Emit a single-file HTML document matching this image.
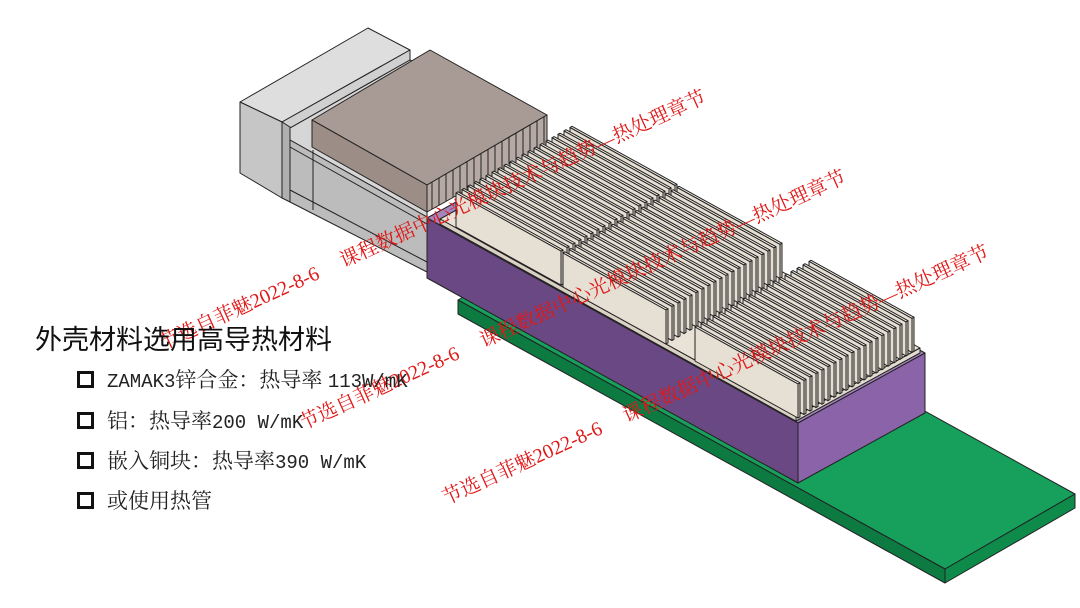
<!DOCTYPE html>
<html><head><meta charset="utf-8"><style>
html,body{margin:0;padding:0;background:#fff;}
body{width:1080px;height:608px;overflow:hidden;position:relative;}
svg{position:absolute;left:0;top:0;}
.h{position:absolute;left:35px;top:318px;font:27px "Liberation Sans","Noto Sans CJK SC",sans-serif;color:#111;white-space:nowrap;}
.it{position:absolute;left:77px;font:21px "Noto Serif CJK SC",serif;color:#222;white-space:nowrap;}
.it i{display:inline-block;width:11px;height:11px;border:3px solid #111;margin-right:13px;vertical-align:-1px;}
.it b{font-weight:normal;font-family:"Liberation Mono",monospace;font-size:19px;}
</style></head><body>
<svg id="s" width="1080" height="608" viewBox="0 0 1080 608" stroke-linejoin="round">
<g stroke="#222" stroke-width="1">
<polygon points="458,300 945,569 1075,494 588,225" fill="#16a05c"/>
<polygon points="458,300 945,569 945,583 458,314" fill="#0d7a42"/>
<polygon points="945,569 1075,494 1075,508 945,583" fill="#0e8a4a"/>
<polygon points="240,102 368,28 410,50 282,122" fill="#dedede"/>
<polygon points="240,102 282,122 282,198 240,173" fill="#c6c6c6"/>
<polygon points="282,122 410,50 410,60 290,128" fill="#d0d0d0"/>
<polygon points="282,122 290,127 290,202 282,198" fill="#b0b0b0"/>
<polygon points="290,128 410,60 440,75 312,140 427,205 427,217 290,140" fill="#d6d6d6"/>
<polygon points="290,140 427,217 427,272 290,202" fill="#bcbcbc"/>
<line x1="290" y1="147" x2="427" y2="224"/>
<line x1="290" y1="190" x2="427" y2="262"/>
<line x1="313" y1="150" x2="313" y2="210"/>
<polygon points="312,120 430,50 547,115 427,185" fill="#a89a94"/>
<polygon points="312,120 427,185 427,212 312,147" fill="#9c8d87"/>
<polygon points="427,185 547,115 547,145 427,212" fill="#b6a9a3"/>
<g id="bf"></g>
<polygon points="427,218 798,423 925,353 554,148" fill="#a486bd"/>
<polygon points="427,218 798,423 798,483 427,278" fill="#6a4884"/>
<polygon points="798,423 925,353 925,413 798,483" fill="#8b63a8"/>
<polygon points="440,219 796,416 920,348 564,151" fill="#e9e2d7"/>
<polygon points="440,219 796,416 796,421 440,224" fill="#d9d1c4"/>
<polygon points="796,416 920,348 920,353 796,421" fill="#e2dbcf"/>
<g id="fins"></g>
</g>
<g fill="#e01818" font-family="'Liberation Serif','Noto Serif CJK SC',serif" font-size="20">
<text transform="translate(163,350) rotate(-24.5)">节选自菲魅2022-8-6　 课程数据中心光模块技术与趋势—热处理章节</text>
<text transform="translate(303,430) rotate(-24.5)">节选自菲魅2022-8-6　 课程数据中心光模块技术与趋势—热处理章节</text>
<text transform="translate(446,505) rotate(-24.5)">节选自菲魅2022-8-6　 课程数据中心光模块技术与趋势—热处理章节</text>
</g>
</svg>
<div class="h">外壳材料选用高导热材料</div>
<div class="it" style="top:364px"><i></i><b>ZAMAK3</b>锌合金：热导率 <b>113W/mK</b></div>
<div class="it" style="top:405px"><i></i>铝：热导率<b>200 W/mK</b></div>
<div class="it" style="top:445px"><i></i>嵌入铜块：热导率<b>390 W/mK</b></div>
<div class="it" style="top:485px"><i></i>或使用热管</div>
<script>
var ns="http://www.w3.org/2000/svg";
function poly(g,pts,fill){var p=document.createElementNS(ns,"polygon");p.setAttribute("points",pts.map(function(a){return a[0].toFixed(1)+","+a[1].toFixed(1)}).join(" "));p.setAttribute("fill",fill);g.appendChild(p);}
var bf=document.getElementById("bf");
for(var k=0;k<17;k++){var x=432+k*7,y=185-(x-427)*70/120;var l=document.createElementNS(ns,"line");l.setAttribute("x1",x);l.setAttribute("y1",y);l.setAttribute("x2",x);l.setAttribute("y2",y+27);bf.appendChild(l);}
var g=document.getElementById("fins");
var s=0.553,H=34;
function block(x0,y0,L,n){
 for(var i=n-1;i>=0;i--){
  var ox=x0+i*6,oy=y0-i*3.45;
  poly(g,[[ox,oy],[ox+2,oy-1.2],[ox+L+2,oy+s*L-1.2],[ox+L,oy+s*L]],"#f2ede4");
  poly(g,[[ox+L,oy+s*L],[ox+L+2,oy+s*L-1.2],[ox+L+2,oy+s*L+H-1.2],[ox+L,oy+s*L+H]],"#d8d0c3");
  poly(g,[[ox,oy],[ox+L,oy+s*L],[ox+L,oy+s*L+H],[ox,oy+H]],"#e6dfd3");
 }
}
block(456,193,105,20);
block(563,253,103,20);
block(695,327,103,20);
</script>
</body></html>
